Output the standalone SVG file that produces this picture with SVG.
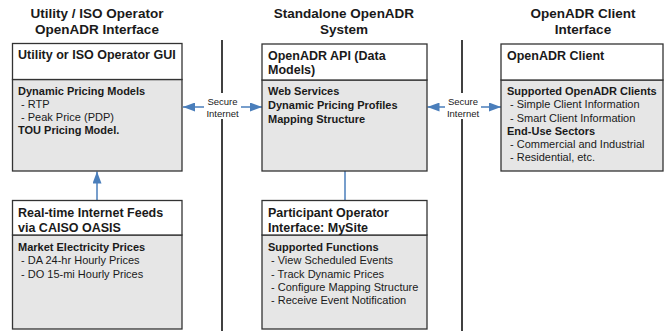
<svg xmlns="http://www.w3.org/2000/svg" width="667" height="331" viewBox="0 0 667 331">
<style>
text{font-family:"Liberation Sans",Arial,sans-serif;fill:#1a1a1a}
.title{font-size:13.5px;font-weight:bold;text-anchor:middle}
.head{font-size:12.5px;font-weight:bold}
.b{font-size:11px;font-weight:bold}
.r{font-size:11px}
.lbl{font-size:9.5px;text-anchor:middle}
.top{fill:#ffffff;stroke:#333;stroke-width:1.3}
.bot{fill:#e6e6e6;stroke:#333;stroke-width:1.3}
.sep{stroke:#000;stroke-width:1.5}
.con{stroke:#4a7ebb;stroke-width:1.5;fill:none}
</style>
<defs>
<marker id="ah" viewBox="0 0 12 9" refX="12" refY="4.5" markerWidth="12" markerHeight="9" markerUnits="userSpaceOnUse" orient="auto-start-reverse">
<path d="M0,0 L12,4.5 L0,9 Z" fill="#4a7ebb"/>
</marker>
</defs>
<g id="titles">
<text class="title" x="97" y="18">Utility / ISO Operator</text>
<text class="title" x="97" y="34">OpenADR Interface</text>
<text class="title" x="344" y="18">Standalone OpenADR</text>
<text class="title" x="344" y="34">System</text>
<text class="title" x="583" y="18">OpenADR Client</text>
<text class="title" x="583" y="34">Interface</text>
</g>
<g id="separators">
<line class="sep" x1="222" y1="40" x2="222" y2="331"/>
<line class="sep" x1="462" y1="40" x2="462" y2="331"/>
</g>
<g id="connectors">
<line class="con" x1="97" y1="200" x2="97" y2="171.5" marker-end="url(#ah)"/>
<line class="con" x1="345" y1="171" x2="345" y2="200"/>
<line class="con" x1="183" y1="107" x2="262" y2="107" marker-start="url(#ah)" marker-end="url(#ah)"/>
<line class="con" x1="427.5" y1="107" x2="501" y2="107" marker-start="url(#ah)" marker-end="url(#ah)"/>
<rect x="204" y="93" width="37" height="26" fill="#fff"/>
<text class="lbl" x="222.5" y="105">Secure</text>
<text class="lbl" x="222.5" y="117">Internet</text>
<rect x="445" y="93" width="36" height="26" fill="#fff"/>
<text class="lbl" x="463" y="105">Secure</text>
<text class="lbl" x="463" y="117">Internet</text>
</g>
<g id="utility-gui">
<rect class="bot" x="12.5" y="79.5" width="169.5" height="91.5"/>
<rect class="top" x="12.5" y="43.5" width="169.5" height="36"/>
<text class="head" x="18" y="59">Utility or ISO Operator GUI</text>
<text class="b" x="18" y="95">Dynamic Pricing Models</text>
<text class="r" x="21" y="108">- RTP</text>
<text class="r" x="21" y="121">- Peak Price (PDP)</text>
<text class="b" x="18" y="134">TOU Pricing Model.</text>
</g>
<g id="openadr-api">
<rect class="bot" x="262" y="80" width="165" height="91"/>
<rect class="top" x="262" y="44" width="165" height="36"/>
<text class="head" x="268" y="60">OpenADR API (Data</text>
<text class="head" x="268" y="74">Models)</text>
<text class="b" x="268" y="95">Web Services</text>
<text class="b" x="268" y="109">Dynamic Pricing Profiles</text>
<text class="b" x="268" y="123">Mapping Structure</text>
</g>
<g id="openadr-client">
<rect class="bot" x="501" y="80" width="162" height="91"/>
<rect class="top" x="501" y="44" width="162" height="36"/>
<text class="head" x="507" y="60">OpenADR Client</text>
<text class="b" x="507" y="95">Supported OpenADR Clients</text>
<text class="r" x="510" y="108">- Simple Client Information</text>
<text class="r" x="510" y="121.5">- Smart Client Information</text>
<text class="b" x="507" y="134.5">End-Use Sectors</text>
<text class="r" x="510" y="147.5">- Commercial and Industrial</text>
<text class="r" x="510" y="160.5">- Residential, etc.</text>
</g>
<g id="caiso-feeds">
<rect class="bot" x="12.5" y="235" width="169.5" height="94"/>
<rect class="top" x="12.5" y="200.5" width="169.5" height="34.5"/>
<text class="head" x="18" y="217">Real-time Internet Feeds</text>
<text class="head" x="18" y="231.5">via CAISO OASIS</text>
<text class="b" x="18" y="251">Market Electricity Prices</text>
<text class="r" x="21" y="264">- DA 24-hr Hourly Prices</text>
<text class="r" x="21" y="277.5">- DO 15-mi Hourly Prices</text>
</g>
<g id="mysite">
<rect class="bot" x="262" y="235" width="165" height="94"/>
<rect class="top" x="262" y="200.5" width="165" height="34.5"/>
<text class="head" x="268" y="217">Participant Operator</text>
<text class="head" x="268" y="231.5">Interface: MySite</text>
<text class="b" x="268" y="251">Supported Functions</text>
<text class="r" x="271" y="264">- View Scheduled Events</text>
<text class="r" x="271" y="277.5">- Track Dynamic Prices</text>
<text class="r" x="271" y="291">- Configure Mapping Structure</text>
<text class="r" x="271" y="304">- Receive Event Notification</text>
</g>
</svg>
